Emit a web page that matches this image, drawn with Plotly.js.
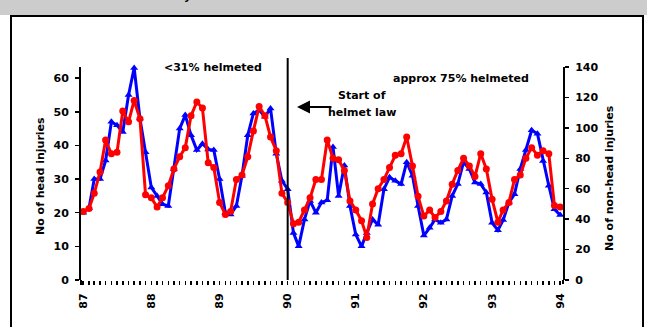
<!DOCTYPE html>
<html>
<head>
<meta charset="utf-8">
<script src="https://cdn.plot.ly/plotly-3.0.1.min.js"></script>
<style>html,body{margin:0;padding:0;background:#fff;}#chart{width:647px;height:327px;}</style>
</head>
<body>
<div id="chart"></div>
<script>
// Monthly counts, Jan 1987 .. Jan 1994
var startYear = 1987;
var headInjuries = [20,21.4,30,30,35.5,47,46,44,55,63,48,38,27.5,25,22.5,22,33,45,49,43,
  38.6,40.5,38.8,38.6,30,20,19.5,22,31,43,49.5,50.5,48.5,51,37.5,29.5,27,14,10,18,
  23.5,20,23,23.7,39.5,25,34,22,13.5,10,14,18,16.4,27,30.5,29.5,28.5,35,31,22,
  13.2,15.5,18,17,18,25,28.5,35,33,29,28.5,26,17,14.8,17.8,23,25.5,33,38.6,44.5,
  43.5,35.4,28,21,19.3];
var nonHeadInjuries = [45,47,57,71,92,83,84,111,104,118,106,56,54,48,54,62,73,81,87,108,
  117,113,77,74,51,43,45,66,69,81,98,114,108,94,85,57,51,37,38,46,
  54,66,66,92,80,79,72,52,46,39,28,50,60,66,74,82,83,94,75,55,
  42,46,41,45,52,63,72,80,75,68,83,73,53,38,46,51,66,69,80,87,
  82,85,83,49,48];
var lawDate = '1990-01-01';
var leftTicks = [0,10,20,30,40,50,60];
var rightTicks = [0,20,40,60,80,100,120,140];

var months = headInjuries.map(function(_, i){
  var y = startYear + Math.floor(i/12), m = (i % 12) + 1;
  return y + '-' + (m < 10 ? '0' + m : m) + '-01';
});

var W = 647, H = 327, L = 81, R = 84, T = 67, B = 47;
var pw = W - L - R, ph = H - T - B;
function px(x){ return (x - L) / pw; }
function py(y){ return (H - B - y) / ph; }

var F = {family: 'DejaVu Sans', size: 11, color: '#000', weight: 'bold'};

var traces = [
  {x: months, y: headInjuries, type: 'scatter', mode: 'lines+markers', yaxis: 'y',
   line: {color: '#0000ff', width: 3}, marker: {symbol: 'triangle-up', size: 7, color: '#0000ff'},
   name: 'head', cliponaxis: false},
  {x: months, y: nonHeadInjuries, type: 'scatter', mode: 'lines+markers', yaxis: 'y2',
   line: {color: '#ff0000', width: 3}, marker: {symbol: 'circle', size: 7, color: '#ff0000'},
   name: 'non-head', cliponaxis: false}
];

var layout = {
  width: W, height: H,
  margin: {l: L, r: R, t: T, b: B, pad: 0},
  paper_bgcolor: '#fff', plot_bgcolor: 'rgba(0,0,0,0)',
  showlegend: false,
  font: F,
  xaxis: {
    type: 'date', range: ['1986-12-20', '1994-01-16'],
    tick0: '1987-01-01', dtick: 'M12', tickformat: '%y', tickangle: -90,
    ticks: 'outside', ticklen: 4, tickwidth: 1.5, tickcolor: '#000',
    minor: {dtick: 'M1', tick0: '1987-01-01', ticks: 'outside', ticklen: 4, tickwidth: 1.5, tickcolor: '#000', showgrid: false},
    showline: false, showgrid: false, zeroline: false,
    tickfont: F, ticklabelstandoff: 4
  },
  yaxis: {
    range: [0, 63.3], tickmode: 'array', tickvals: leftTicks,
    ticks: 'outside', ticklen: 4, tickwidth: 1.5, tickcolor: '#000',
    showline: true, linecolor: '#000', linewidth: 2, showgrid: false, zeroline: false,
    tickfont: F, ticklabelstandoff: 4
  },
  yaxis2: {
    overlaying: 'y', side: 'right', range: [0, 140], tickmode: 'array', tickvals: rightTicks,
    ticks: 'outside', ticklen: 4, tickwidth: 1.5, tickcolor: '#000',
    showline: true, linecolor: '#000', linewidth: 2, showgrid: false, zeroline: false,
    tickfont: F, ticklabelstandoff: 4
  },
  shapes: [
    {type: 'rect', xref: 'paper', yref: 'paper', x0: px(-5), x1: px(652), y0: py(15), y1: py(-5),
     fillcolor: '#cccccc', line: {width: 0}, layer: 'below'},
    {type: 'rect', xref: 'paper', yref: 'paper', x0: px(11), x1: px(643), y0: py(335), y1: py(16),
     fillcolor: 'rgba(0,0,0,0)', line: {color: '#000', width: 2}, layer: 'below'},
    {type: 'line', xref: 'x', yref: 'paper', x0: lawDate, x1: lawDate, y0: py(280), y1: py(58),
     line: {color: '#000', width: 2}},
    {type: 'line', xref: 'paper', yref: 'paper', x0: 0, x1: 0, y0: py(285), y1: 0,
     line: {color: '#000', width: 2}},
    {type: 'line', xref: 'paper', yref: 'paper', x0: 1, x1: 1, y0: py(284), y1: 0,
     line: {color: '#000', width: 2}}
  ],
  annotations: [
    {xref: 'paper', yref: 'paper', x: px(40), y: py(176), text: 'No of head injuries', textangle: -90,
     showarrow: false, font: F, xanchor: 'center', yanchor: 'middle'},
    {xref: 'paper', yref: 'paper', x: px(609), y: py(178), text: 'No of non-head injuries', textangle: -90,
     showarrow: false, font: F, xanchor: 'center', yanchor: 'middle'},
    {xref: 'paper', yref: 'paper', x: px(213), y: py(68), text: '<31% helmeted',
     showarrow: false, font: F, xanchor: 'center', yanchor: 'middle'},
    {xref: 'paper', yref: 'paper', x: px(461), y: py(78), text: 'approx 75% helmeted',
     showarrow: false, font: F, xanchor: 'center', yanchor: 'middle'},
    {xref: 'paper', yref: 'paper', x: px(362), y: py(95), text: 'Start of',
     showarrow: false, font: F, xanchor: 'center', yanchor: 'middle'},
    {xref: 'paper', yref: 'paper', x: px(362), y: py(112), text: 'helmet law',
     showarrow: false, font: F, xanchor: 'center', yanchor: 'middle'},
    {xref: 'paper', yref: 'paper', x: px(297), y: py(107), text: '', showarrow: true,
     ax: 36, ay: 0, arrowhead: 2, arrowsize: 1.3, arrowwidth: 2, arrowcolor: '#000', standoff: 0},
    {xref: 'paper', yref: 'paper', x: px(187), y: py(5), text: 'y',
     showarrow: false, font: F, xanchor: 'center', yanchor: 'bottom'}
  ]
};

Plotly.newPlot('chart', traces, layout, {displayModeBar: false, staticPlot: true});
</script>
</body>
</html>
